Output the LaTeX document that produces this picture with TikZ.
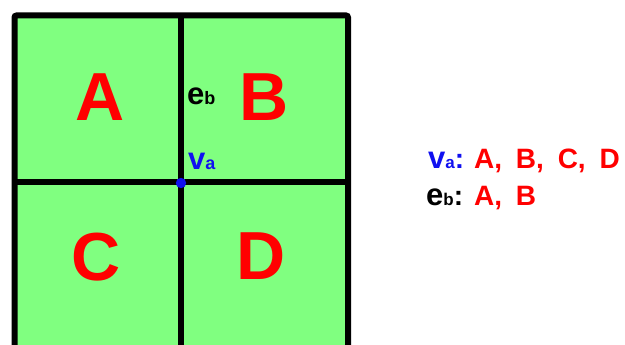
\documentclass[tikz,border=0pt]{standalone}
\usepackage{fontspec}
\setmainfont{Liberation Sans}
\definecolor{cellgreen}{RGB}{128,255,128}
\definecolor{regred}{RGB}{255,0,0}
\definecolor{vertblue}{RGB}{16,16,240}
\tikzset{
  region/.style={font=\bfseries\fontsize{68}{68}\selectfont, text=regred, inner sep=0pt, anchor=base},
  sym/.style={font=\bfseries, inner sep=0pt, anchor=base west},
  regset/.style={font=\bfseries\fontsize{28}{28}\selectfont, text=regred, inner sep=0pt, anchor=base west},
  gridline/.style={line width=6pt, black},
}
\newcommand{\bigsym}[2]{{\fontsize{31}{31}\selectfont #1}{\fontsize{18}{18}\selectfont #2}}
\newcommand{\listsym}[2]{{\fontsize{31}{31}\selectfont #1}{\fontsize{17}{17}\selectfont #2}{\fontsize{28}{28}\selectfont :}}
\newcommand{\sep}{,\hspace{6pt} }
\begin{document}
\begin{tikzpicture}[x=1pt,y=-1pt]
  \useasboundingbox (0,0) rectangle (625,345);
  \fill[white] (0,0) rectangle (625,345);
  \begin{scope}
    \clip (0,0) rectangle (625,345);
    % green cells
    \fill[cellgreen] (14.5,15.5) rectangle (348,360);
    % outer frame and the two dividing lines
    \draw[gridline, rounded corners=2pt] (14.5,360) -- (14.5,15.5) -- (348,15.5) -- (348,360);
    \draw[gridline] (181,15.5) -- (181,360);
    \draw[gridline] (14.5,182.5) -- (348,182.5);
  \end{scope}
  % shared vertex
  \fill[vertblue] (181,183) circle (5.2pt);
  % region labels
  \node[region] (A) at (100,121) {A};
  \node[region] (B) at (264,121) {B};
  \node[region] (C) at (96,280) {C};
  \node[region] (D) at (261.5,279) {D};
  % edge and vertex labels
  \node[sym, text=black] (eb) at (187,105) {\bigsym{e}{b}};
  \node[sym, text=vertblue] (va) at (188,169) {\bigsym{v}{a}};
  % incidence list
  \node[sym, text=vertblue] (lva) at (428,168) {\listsym{v}{a}};
  \node[regset] (lvaset) at (474,168) {A\sep B\sep C\sep D};
  \node[sym, text=black] (leb) at (426,205) {\listsym{e}{b}};
  \node[regset] (lebset) at (474,205) {A\sep B};
\end{tikzpicture}
\end{document}
